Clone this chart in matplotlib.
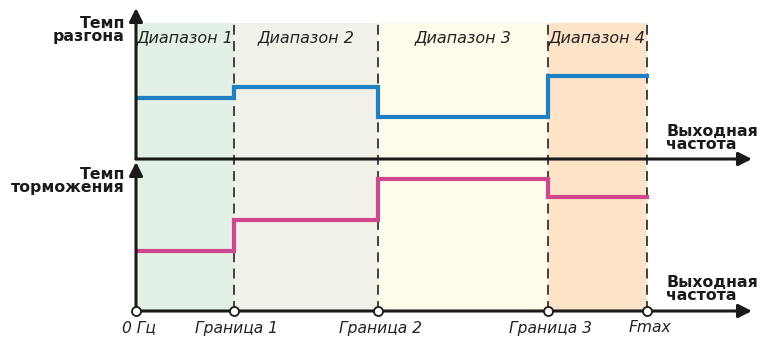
import matplotlib
matplotlib.use("Agg")
import matplotlib.pyplot as plt

# границы диапазонов (условные единицы частоты, ось от 0 до 616)
granitsy = [0, 98, 242, 412, 511]
podpisi_granits = ["0 Гц", "Граница 1", "Граница 2", "Граница 3", "Fmax"]
diapazony = ["Диапазон 1", "Диапазон 2", "Диапазон 3", "Диапазон 4"]
temp_razgona = [61, 72, 42, 83]
temp_tormozh = [60, 91, 132, 114]
tsveta_fona = ["#e2f0e5", "#f1f1e9", "#fffcec", "#fde3c7"]

W, H = 760, 337
fig = plt.figure(figsize=(W / 100, H / 100), dpi=100)
fig.patch.set_facecolor("white")

x_max = 616
# нижний график: ось на y=311 px, верх стрелки на y=162 px
ax_b = fig.add_axes([136 / W, (H - 311) / H, x_max / W, 149 / H])
# верхний график: ось на y=159 px, верх стрелки на y=8 px
ax_t = fig.add_axes([136 / W, (H - 159) / H, x_max / W, 151 / H])
for ax, ytop in [(ax_b, 149), (ax_t, 151)]:
    ax.set_xlim(0, x_max)
    ax.set_ylim(0, ytop)
    ax.axis("off")
    ax.patch.set_alpha(0)

ink = "#1a1a1a"
verh_fona = 288  # верх заливки в единицах нижнего графика

# заливка диапазонов
for i, c in enumerate(tsveta_fona):
    ax_b.fill_between([granitsy[i], granitsy[i + 1]], 0, verh_fona,
                      color=c, lw=0, clip_on=False, zorder=0)
    xc = (granitsy[i] + granitsy[i + 1]) / 2
    ax_b.text(xc, verh_fona - 15, diapazony[i], ha="center", va="center",
              fontsize=11.5, style="italic", color="#222222", zorder=3,
              clip_on=False)

# пунктирные границы
ax_b.vlines(granitsy[1:], 0, verh_fona, colors="#333333", lw=1.3,
            linestyles=(0, (5.5, 3.5)), clip_on=False, zorder=1)

# ступенчатые линии
ax_t.step(granitsy, temp_razgona + [temp_razgona[-1]], where="post",
          color="#1f80c3", lw=3, solid_joinstyle="miter", zorder=4)
ax_b.step(granitsy, temp_tormozh + [temp_tormozh[-1]], where="post",
          color="#d0478f", lw=3, solid_joinstyle="miter", zorder=4)

# оси со стрелками
arr = dict(arrowstyle="-|>", lw=2.2, color=ink, mutation_scale=20,
           shrinkA=0, shrinkB=0)
for ax, ytop in [(ax_b, 149), (ax_t, 151)]:
    ax.annotate("", xy=(x_max, 0), xytext=(0, 0), arrowprops=arr,
                annotation_clip=False, zorder=5)
    ax.annotate("", xy=(0, ytop), xytext=(0, 0), arrowprops=arr,
                annotation_clip=False, zorder=5)

# кружки на границах
ax_b.plot(granitsy, [0] * len(granitsy), "o", ms=6.5, mfc="white",
          mec=ink, mew=1.3, clip_on=False, zorder=6)

# подписи границ (чуть правее отметки, как на исходнике)
for x, s in zip(granitsy, podpisi_granits):
    ax_b.annotate(s, xy=(x, 0), xytext=(2.5, -17), textcoords="offset pixels",
                  ha="center", va="center", fontsize=11.2,
                  style="italic", color="#222222", annotation_clip=False)

# подписи осей
ax_t.text(-11, 129, "Темп\nразгона", ha="right", va="center",
          fontsize=11.3, weight="bold", color=ink, linespacing=0.9)
ax_b.text(-11, 130, "Темп\nторможения", ha="right", va="center",
          fontsize=11.3, weight="bold", color=ink, linespacing=0.9)
ax_t.text(530, 21, "Выходная\nчастота", ha="left", va="center",
          fontsize=11.3, weight="bold", color=ink, linespacing=0.9)
ax_b.text(530, 22, "Выходная\nчастота", ha="left", va="center",
          fontsize=11.3, weight="bold", color=ink, linespacing=0.9)

fig.savefig("out.png", dpi=100, facecolor="white")
